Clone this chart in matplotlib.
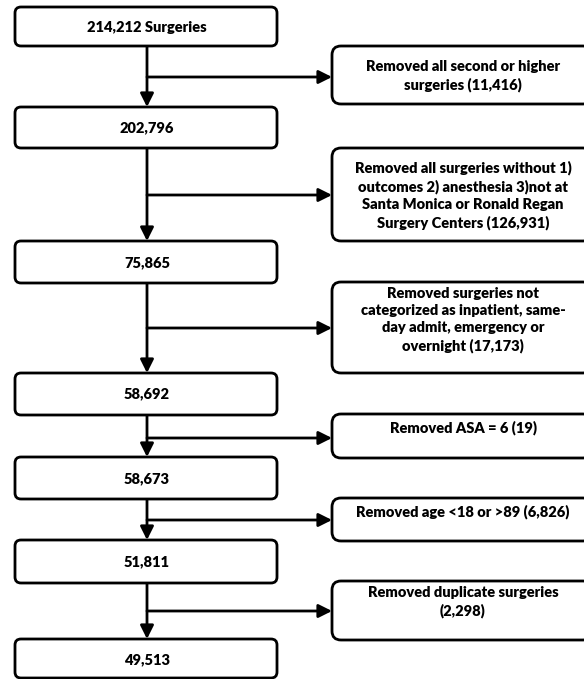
import matplotlib
matplotlib.use("Agg")
import matplotlib.pyplot as plt
from matplotlib.patches import FancyBboxPatch

plt.rcParams["font.family"] = ["Lato", "DejaVu Sans"]

# ---------------------------------------------------------------------------
# data
# ---------------------------------------------------------------------------
counts = ["214,212 Surgeries", "202,796", "75,865", "58,692", "58,673",
          "51,811", "49,513"]
exclusions = [
    "Removed all second or higher\nsurgeries (11,416)",
    "Removed all surgeries without 1)\noutcomes 2) anesthesia 3)not at\n"
    "Santa Monica or Ronald Regan\nSurgery Centers (126,931)",
    "Removed surgeries not\ncategorized as inpatient, same-\n"
    "day admit, emergency or\novernight (17,173)",
    "Removed ASA = 6 (19)",
    "Removed age <18 or >89 (6,826)",
    "Removed duplicate surgeries\n(2,298)",
]

# ---------------------------------------------------------------------------
# layout (pixels, y downwards)
# ---------------------------------------------------------------------------
W, H = 584, 679
left_x0, left_x1 = 15, 277
right_x0, right_x1 = 332, 592
spine_x = 147
left_top = [7, 107, 241, 373, 457, 540, 639]
left_bot = [46, 148, 283, 415, 499, 583, 678]
left_text_y = [28, 128, 263, 394, 479, 562, 660]
right_top = [46, 148, 282, 414, 498, 581]
right_bot = [104, 241, 373, 458, 541, 640]
right_text_y = [76, 195, 320, 428, 512, 602]
arrow_y = [77, 195, 328, 438, 520, 611]

LW = 2.0
FS = 10.5
WEIGHT = "heavy"

fig = plt.figure(figsize=(W / 100, H / 100), dpi=100)
ax = fig.add_axes([0, 0, 1, 1])
ax.set_xlim(0, W)
ax.set_ylim(H, 0)
ax.axis("off")


def rbox(x0, y0, x1, y1, r):
    p = FancyBboxPatch((x0 + r, y0 + r), (x1 - x0) - 2 * r, (y1 - y0) - 2 * r,
                       boxstyle=f"round,pad={r},rounding_size={r}",
                       fc="white", ec="black", lw=LW, zorder=3)
    ax.add_patch(p)


def arrow(x0, y0, x1, y1):
    ax.annotate("", xy=(x1, y1), xytext=(x0, y0),
                arrowprops=dict(arrowstyle="-|>,head_length=0.8,head_width=0.4",
                                lw=LW, color="black", shrinkA=0, shrinkB=0),
                zorder=2)


# main column
for i, label in enumerate(counts):
    rbox(left_x0, left_top[i], left_x1, left_bot[i], 6)
    ax.text(spine_x, left_text_y[i], label, ha="center", va="center",
            fontsize=FS, fontweight=WEIGHT, zorder=4)
    if i + 1 < len(counts):
        arrow(spine_x, left_bot[i], spine_x, left_top[i + 1])

# exclusion boxes
for i, label in enumerate(exclusions):
    rbox(right_x0, right_top[i], right_x1, right_bot[i], 9)
    ax.text(463, right_text_y[i], label, ha="center", va="center",
            fontsize=FS, fontweight=WEIGHT, linespacing=1.38, zorder=4)
    arrow(spine_x, arrow_y[i], right_x0, arrow_y[i])

fig.savefig("out.png", dpi=100, facecolor="white")
